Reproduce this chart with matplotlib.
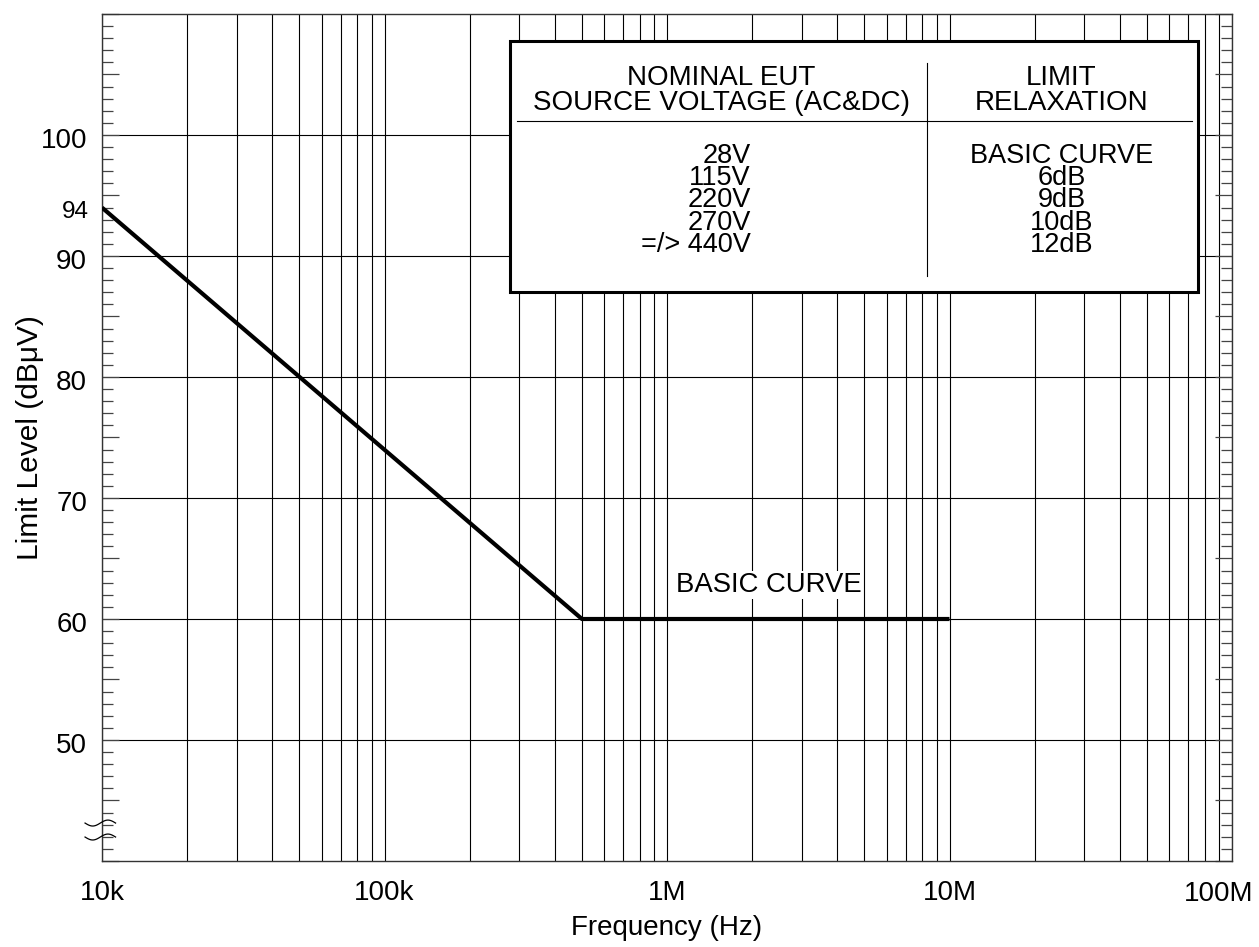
import numpy as np
import matplotlib
matplotlib.use("Agg")
import matplotlib.pyplot as plt
from matplotlib.ticker import LogLocator, MultipleLocator, NullFormatter, FixedLocator

plt.rcParams['font.family'] = ['Liberation Sans', 'DejaVu Sans']

# limit curve corner points (Hz, dBuV)
freq = [1e4, 5e5, 1e7]
level = [94, 60, 60]

# y-axis labelled values and horizontal gridlines
y_labels = [50, 60, 70, 80, 90, 100]
x_ticks = [1e4, 1e5, 1e6, 1e7, 1e8]
x_tick_labels = ['10k', '100k', '1M', '10M', '100M']

# relaxation table
voltages = ['28V', '115V', '220V', '270V', '=/> 440V']
relax = ['BASIC CURVE', '6dB', '9dB', '10dB', '12dB']

fig = plt.figure(figsize=(12.59, 9.47), dpi=100)
ax = fig.add_axes([102/1259, 86/947, 1130/1259, 847/947])

ax.set_xscale('log')
ax.set_xlim(1e4, 1e8)
ax.set_ylim(40, 110)

# vertical grid at every 1..9 of each decade
ax.xaxis.set_major_locator(FixedLocator(x_ticks))
ax.xaxis.set_minor_locator(LogLocator(base=10, subs=range(2, 10)))
ax.set_xticklabels(x_tick_labels[:-1] + [''])
ax.xaxis.set_minor_formatter(NullFormatter())
ax.grid(True, which='both', axis='x', color='black', lw=0.8)
ax.tick_params(axis='x', which='both', length=0, pad=14, labelsize=20)
# last label shifted left so it stays on the page
ax.annotate(x_tick_labels[-1], xy=(1, 0), xycoords='axes fraction', xytext=(-13, -19.5),
            textcoords='offset pixels', ha='center', va='top', fontsize=20)

# y ticks inward on both sides, long at 5s, short at 1s
ax.yaxis.set_major_locator(MultipleLocator(5))
ax.yaxis.set_minor_locator(MultipleLocator(1))
ax.yaxis.set_major_formatter(NullFormatter())
ax.tick_params(axis='y', which='both', direction='in', left=True, right=True,
               color='#444444', width=0.9)
ax.tick_params(axis='y', which='major', length=12.5)
ax.tick_params(axis='y', which='minor', length=8.2)
for v in y_labels:
    ax.axhline(v, color='black', lw=0.8, zorder=1)
    ax.annotate('%d' % v, xy=(0, v), xycoords=('axes fraction', 'data'),
                xytext=(-15, -6), textcoords='offset pixels', ha='right', va='center', fontsize=20)

for s in ax.spines.values():
    s.set_color('#333333')
    s.set_linewidth(1.0)

ax.annotate('94', xy=(0, 94), xycoords=('axes fraction', 'data'),
            xytext=(-13, -4), textcoords='offset pixels', ha='right', va='center', fontsize=17.5)

ax.plot(freq, level, color='black', lw=3, solid_capstyle='butt', zorder=5)

ax.text(2.3e6, 62.8, 'BASIC CURVE', fontsize=19.8, ha='center', va='center',
        bbox=dict(facecolor='white', edgecolor='none', pad=1), zorder=6)

ax.set_xlabel('Frequency (Hz)', fontsize=20, labelpad=6)
ax.set_ylabel('Limit Level (dB\u03bcV)', fontsize=21.5, va='center')
ax.yaxis.set_label_coords(-0.064, 0.5)

# axis break symbol
t = np.linspace(-1, 1, 60)
for y0 in (0.0448, 0.0283):
    ax.plot(-0.0015 + 0.0135 * t, y0 + 0.0035 * np.sin(np.pi * t), transform=ax.transAxes,
            color='black', lw=0.9, clip_on=False, zorder=7)

# table box
tr = ax.transAxes
box = plt.Rectangle((0.361, 0.672), 0.609, 0.296, transform=tr, facecolor='white',
                    edgecolor='black', lw=2.2, zorder=8)
ax.add_patch(box)
ax.plot([0.367, 0.965], [0.874, 0.874], transform=tr, color='black', lw=0.8, zorder=9)
ax.plot([0.730, 0.730], [0.691, 0.942], transform=tr, color='black', lw=0.8, zorder=9)

ax.text(0.548, 0.910, 'NOMINAL EUT\nSOURCE VOLTAGE (AC&DC)', transform=tr, ha='center',
        va='center', fontsize=20, linespacing=0.93, zorder=10)
ax.text(0.849, 0.910, 'LIMIT\nRELAXATION', transform=tr, ha='center',
        va='center', fontsize=20, linespacing=0.93, zorder=10)
ax.text(0.574, 0.780, '\n'.join(voltages), transform=tr, ha='right', va='center',
        multialignment='right', fontsize=19.5, linespacing=0.81, zorder=10)
ax.text(0.849, 0.780, '\n'.join(relax), transform=tr, ha='center', va='center',
        multialignment='center', fontsize=19.5, linespacing=0.81, zorder=10)

fig.savefig('out.png', dpi=100)
